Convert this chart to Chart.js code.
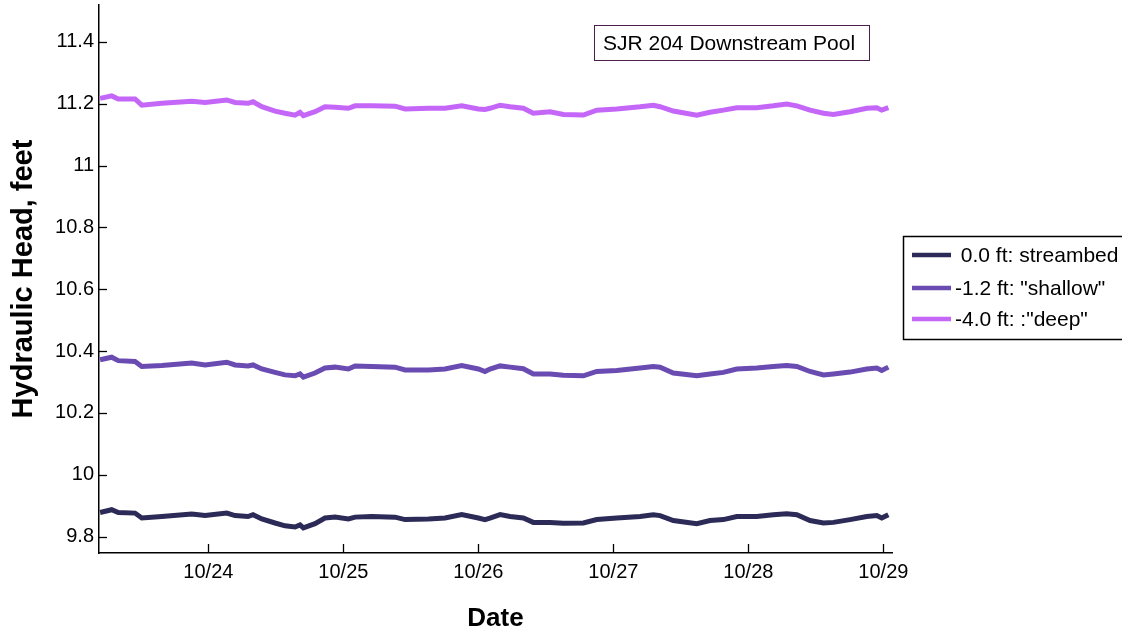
<!DOCTYPE html>
<html>
<head>
<meta charset="utf-8">
<title>SJR 204 Downstream Pool</title>
<script src="https://cdn.jsdelivr.net/npm/chart.js@4.4.0/dist/chart.umd.min.js"></script>
<style>
    html, body { margin: 0; padding: 0; background: #fff; }
    #wrap { width: 1122px; height: 634px; }
</style>
</head>
<body>
<div id="wrap"><canvas id="headChart" width="1122" height="634"></canvas></div>
<script>
'use strict';

/* ── Data (days since 10/23 00:00) ─────────────────────────────────────── */
const DAYS = [
    0.198, 0.284, 0.333, 0.457, 0.507, 0.655, 0.877, 0.976, 1.136, 1.198,
    1.294, 1.331, 1.396, 1.494, 1.568, 1.642, 1.679, 1.704, 1.790, 1.864,
    1.939, 2.037, 2.087, 2.210, 2.383, 2.457, 2.630, 2.753, 2.877, 3.000,
    3.049, 3.086, 3.161, 3.235, 3.333, 3.407, 3.531, 3.630, 3.778, 3.877,
    4.025, 4.198, 4.296, 4.346, 4.444, 4.618, 4.716, 4.815, 4.914, 5.062,
    5.185, 5.284, 5.359, 5.457, 5.556, 5.630, 5.753, 5.877, 5.951, 5.988,
    6.037,
];

const STREAMBED = [
    9.878, 9.887, 9.878, 9.876, 9.860, 9.865, 9.873, 9.868, 9.876, 9.868,
    9.865, 9.871, 9.857, 9.844, 9.835, 9.831, 9.838, 9.828, 9.842, 9.860,
    9.863, 9.857, 9.863, 9.865, 9.863, 9.855, 9.857, 9.860, 9.871, 9.860,
    9.855, 9.860, 9.871, 9.865, 9.860, 9.846, 9.846, 9.843, 9.844, 9.855,
    9.860, 9.865, 9.871, 9.868, 9.852, 9.842, 9.852, 9.855, 9.865, 9.865,
    9.871, 9.874, 9.871, 9.852, 9.844, 9.846, 9.855, 9.865, 9.868, 9.860,
    9.871,
];

const SHALLOW = [
    10.372, 10.380, 10.369, 10.366, 10.350, 10.353, 10.361, 10.355, 10.364, 10.355,
    10.352, 10.355, 10.342, 10.331, 10.323, 10.320, 10.326, 10.316, 10.329, 10.345,
    10.348, 10.342, 10.352, 10.350, 10.348, 10.339, 10.339, 10.342, 10.353, 10.342,
    10.334, 10.342, 10.352, 10.348, 10.343, 10.326, 10.326, 10.322, 10.320, 10.334,
    10.337, 10.345, 10.350, 10.348, 10.329, 10.320, 10.326, 10.331, 10.342, 10.345,
    10.350, 10.353, 10.350, 10.334, 10.323, 10.326, 10.332, 10.342, 10.345, 10.337,
    10.348,
];

const DEEP = [
    11.217, 11.225, 11.215, 11.215, 11.195, 11.201, 11.208, 11.204, 11.212, 11.204,
    11.201, 11.206, 11.190, 11.176, 11.169, 11.163, 11.172, 11.161, 11.174, 11.190,
    11.188, 11.185, 11.193, 11.193, 11.192, 11.183, 11.185, 11.185, 11.193, 11.183,
    11.181, 11.185, 11.195, 11.190, 11.185, 11.169, 11.174, 11.165, 11.163, 11.179,
    11.183, 11.190, 11.195, 11.190, 11.176, 11.163, 11.172, 11.179, 11.187, 11.187,
    11.193, 11.199, 11.193, 11.179, 11.169, 11.165, 11.174, 11.185, 11.187, 11.179,
    11.187,
];

const SERIES_LABELS = [' 0.0 ft: streambed', '-1.2 ft: "shallow"', '-4.0 ft: :"deep"'];
const SERIES_COLORS = ['#2c2a57', '#6a4bb2', '#c466f8'];

const X_TICKS = [1, 2, 3, 4, 5, 6];
const X_TICK_LABELS = ['10/24', '10/25', '10/26', '10/27', '10/28', '10/29'];
const Y_TICKS = [9.8, 10.0, 10.2, 10.4, 10.6, 10.8, 11.0, 11.2, 11.4];
const Y_TICK_LABELS = ['9.8', '10', '10.2', '10.4', '10.6', '10.8', '11', '11.2', '11.4'];

const FONT = "'Liberation Sans', Arial, sans-serif";

/* ── Extra drawing: inward ticks, title box, legend box ───────────────── */
const decorations = {
    id: 'decorations',
    afterDraw(chart) {
        const ctx = chart.ctx;
        const xs = chart.scales.x;
        const ys = chart.scales.y;
        ctx.save();

        // inward tick marks
        ctx.strokeStyle = '#000';
        ctx.lineWidth = 1.3;
        ys.ticks.forEach(t => {
            const py = Math.round(ys.getPixelForValue(t.value)) + 0.5;
            ctx.beginPath();
            ctx.moveTo(xs.left, py);
            ctx.lineTo(xs.left + 8, py);
            ctx.stroke();
        });
        xs.ticks.forEach(t => {
            const px = Math.round(xs.getPixelForValue(t.value)) + 0.5;
            ctx.beginPath();
            ctx.moveTo(px, ys.bottom);
            ctx.lineTo(px, ys.bottom - 9);
            ctx.stroke();
        });

        // title box
        ctx.fillStyle = '#fff';
        ctx.fillRect(594.5, 25.5, 275, 35);
        ctx.strokeStyle = '#4b1f4b';
        ctx.lineWidth = 1;
        ctx.strokeRect(594.5, 25.5, 275, 35);
        ctx.fillStyle = '#000';
        ctx.font = `21px ${FONT}`;
        ctx.textBaseline = 'middle';
        ctx.textAlign = 'left';
        ctx.fillText('SJR 204 Downstream Pool', 603, 44);

        // legend box
        ctx.fillStyle = '#fff';
        ctx.fillRect(903.5, 236.5, 240, 103);
        ctx.strokeStyle = '#000';
        ctx.lineWidth = 1.5;
        ctx.strokeRect(903.5, 236.5, 240, 103);
        const rows = [255, 288, 319];
        chart.data.datasets.forEach((ds, i) => {
            ctx.strokeStyle = ds.borderColor;
            ctx.lineWidth = 4.5;
            ctx.beginPath();
            ctx.moveTo(912, rows[i]);
            ctx.lineTo(951, rows[i]);
            ctx.stroke();
            ctx.fillStyle = '#000';
            ctx.font = `21px ${FONT}`;
            ctx.fillText(ds.label, 955, rows[i] + 1);
        });

        ctx.restore();
    },
};

/* ── Chart ──────────────────────────────────────────────────────────────── */
const makeSeries = vals => vals.map((v, i) => ({ x: DAYS[i], y: v }));

new Chart(document.getElementById('headChart').getContext('2d'), {
    type: 'line',
    data: {
        datasets: [STREAMBED, SHALLOW, DEEP].map((vals, i) => ({
            label: SERIES_LABELS[i],
            data: makeSeries(vals),
            borderColor: SERIES_COLORS[i],
            backgroundColor: SERIES_COLORS[i],
            borderWidth: 5,
            pointRadius: 0,
            tension: 0,
            fill: false,
        })),
    },
    options: {
        responsive: false,
        animation: false,
        layout: { padding: { left: 0, top: 5, right: 230, bottom: 0 } },
        plugins: {
            legend: { display: false },
            tooltip: { enabled: false },
        },
        scales: {
            x: {
                type: 'linear',
                min: 0.19,
                max: 6.064,
                afterBuildTicks: s => { s.ticks = X_TICKS.map(v => ({ value: v })); },
                afterFit: s => { s.height = 81; s.paddingLeft = 0; s.paddingRight = 0; },
                ticks: {
                    autoSkip: false,
                    maxRotation: 0,
                    padding: 7,
                    color: '#000',
                    font: { family: FONT, size: 20 },
                    callback: (v, i) => X_TICK_LABELS[i],
                },
                grid: { drawOnChartArea: false, drawTicks: false },
                border: { display: true, color: '#000', width: 1.5 },
                title: {
                    display: true,
                    text: 'Date',
                    color: '#000',
                    font: { family: FONT, size: 26, weight: 'bold' },
                    padding: { top: 0, bottom: 0 },
                },
            },
            y: {
                min: 9.747,
                max: 11.519,
                afterBuildTicks: s => { s.ticks = Y_TICKS.map(v => ({ value: v })); },
                afterFit: s => { s.width = 99; s.paddingTop = 0; s.paddingBottom = 0; },
                ticks: {
                    padding: 5,
                    color: '#000',
                    font: { family: FONT, size: 20 },
                    callback: (v, i) => Y_TICK_LABELS[i],
                },
                grid: { drawOnChartArea: false, drawTicks: false },
                border: { display: true, color: '#000', width: 1.5 },
                title: {
                    display: true,
                    text: 'Hydraulic Head, feet',
                    color: '#000',
                    font: { family: FONT, size: 29, weight: 'bold' },
                    padding: { top: 7, bottom: 0 },
                },
            },
        },
    },
    plugins: [decorations],
});
</script>
</body>
</html>
